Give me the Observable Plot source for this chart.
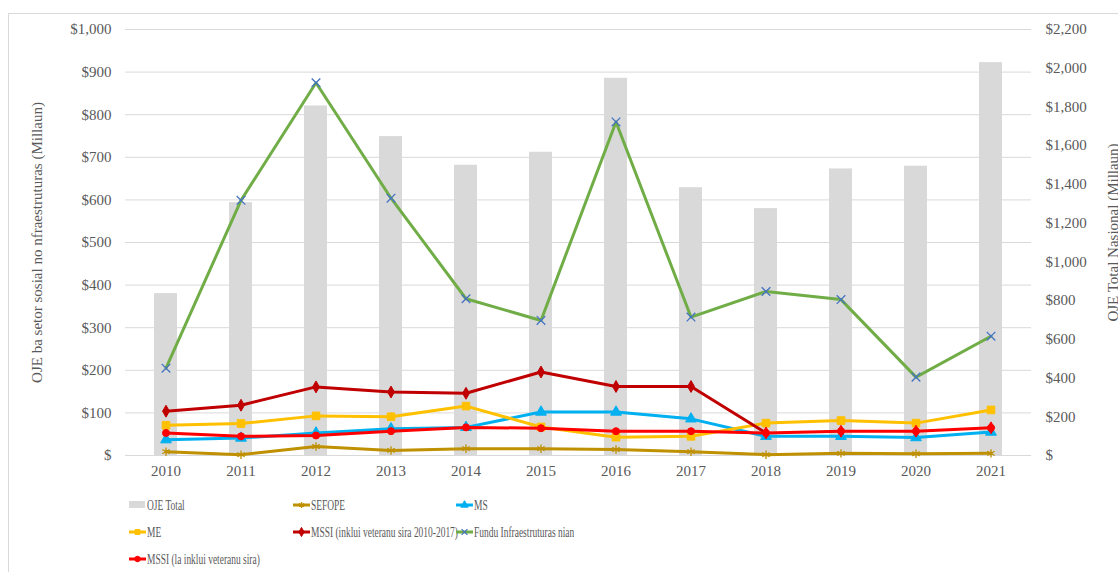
<!DOCTYPE html>
<html>
<head>
<meta charset="utf-8">
<script src="https://cdn.jsdelivr.net/npm/d3@7"></script>
<script src="https://cdn.jsdelivr.net/npm/@observablehq/plot@0.6"></script>
<style>
  html, body { margin:0; padding:0; background:#fff; overflow:hidden; width:1118px; height:572px; }
  #frame { position:absolute; left:8px; top:13px; width:1200px; height:700px; border:1px solid #d9d9d9; box-sizing:border-box; }
  #chart { position:absolute; left:0; top:0; }
  #legend { position:absolute; left:0; top:0; font-family:"Liberation Serif", serif; font-size:15px; color:#595959; }
  .item { position:absolute; display:flex; align-items:center; white-space:nowrap; height:16px; }
  .item svg { margin-right:1px; flex:none; }
  .item span { display:inline-block; transform:scaleX(0.63); transform-origin:left center; }
</style>
</head>
<body>
<div id="frame"></div>
<div id="chart"></div>
<div id="legend"></div>
<script>
const years = [2010, 2011, 2012, 2013, 2014, 2015, 2016, 2017, 2018, 2019, 2020, 2021];
const ojeTotal = [836, 1306, 1805, 1647, 1499, 1566, 1948, 1383, 1275, 1480, 1494, 2029];
const sefope = [9, 2, 21, 12, 16, 16, 14, 9, 2, 5, 4, 5];
const ms = [37, 41, 53, 63, 66, 102, 102, 86, 45, 45, 42, 55];
const me = [71, 75, 93, 91, 116, 67, 43, 45, 76, 82, 76, 107];
const mssiInklui = [104, 118, 161, 149, 146, 196, 162, 162, 53, 57, 57, 65];
const fundu = [205, 599, 875, 604, 368, 317, 783, 325, 385, 366, 184, 280];
const mssiLa = [53, 45, 47, 57, 66, 64, 57, 57, 53, 57, 57, 65];
const leftTicks = [0, 100, 200, 300, 400, 500, 600, 700, 800, 900, 1000];
const rightTicks = [0, 200, 400, 600, 800, 1000, 1200, 1400, 1600, 1800, 2000, 2200];
const leftTitle = "OJE ba setor sosial no nfraestruturas (Millaun)";
const rightTitle = "OJE Total Nasional (Millaun)";
const barName = "OJE Total";
const seriesNames = ["SEFOPE", "MS", "ME", "MSSI (inklui veteranu sira 2010-2017)", "Fundu Infraestruturas nian", "MSSI (la inklui veteranu sira)"];

const ratio = 2200 / 1000;
const fmt = v => v === 0 ? "$" : "$" + d3.format(",")(v);

const series = [
  {name: seriesNames[0], values: sefope, stroke: "#bf9000", symbol: "asterisk", mfill: "none", mstroke: "#bf9000", r: 4},
  {name: seriesNames[1], values: ms, stroke: "#00b0f0", symbol: "triangle", mfill: "#00b0f0", mstroke: "#00b0f0", r: 4},
  {name: seriesNames[2], values: me, stroke: "#ffc000", symbol: "square", mfill: "#ffc000", mstroke: "#ffc000", r: 4.3},
  {name: seriesNames[3], values: mssiInklui, stroke: "#c00000", symbol: "diamond", mfill: "#c00000", mstroke: "#c00000", r: 3.6},
  {name: seriesNames[4], values: fundu, stroke: "#70ad47", symbol: "times", mfill: "none", mstroke: "#4472c4", r: 4},
  {name: seriesNames[5], values: mssiLa, stroke: "#ff0000", symbol: "circle", mfill: "#ff0000", mstroke: "#ff0000", r: 3.5}
];

const barData = years.map((y, i) => ({year: y, v: ojeTotal[i] / ratio}));

const marks = [
  Plot.gridY(leftTicks, {stroke: "#d9d9d9", strokeOpacity: 1, strokeWidth: 1}),
  Plot.barY(barData, {x: "year", y: "v", fill: "#d9d9d9"}),
  Plot.axisY(leftTicks, {anchor: "left", tickSize: 0, tickPadding: 14, tickFormat: fmt, label: null, fill: "#595959"}),
  Plot.axisY(rightTicks.map(t => t / ratio), {anchor: "right", tickSize: 0, tickPadding: 14, tickFormat: d => fmt(Math.round(d * ratio)), label: null, fill: "#595959"}),
  Plot.axisX({tickSize: 0, tickPadding: 10, tickFormat: d => String(d), label: null, fill: "#595959"}),
  Plot.text([leftTitle], {frameAnchor: "left", textAnchor: "middle", dx: -88, rotate: -90, fontSize: 15, fill: "#595959"}),
  Plot.text([rightTitle], {frameAnchor: "right", textAnchor: "middle", dx: 82, dy: -10, rotate: -90, fontSize: 15, fill: "#595959"})
];

for (const s of series) {
  const data = years.map((y, i) => ({year: y, v: s.values[i]}));
  let lineData = data;
  if (s === series[3]) lineData = data.filter(d => d.year <= 2018);
  marks.push(Plot.line(lineData, {x: "year", y: "v", stroke: s.stroke, strokeWidth: 3}));
  const dotFill = s === series[3] ? data.map(d => d.year <= 2017 ? "#c00000" : "#ff0000") : null;
  marks.push(Plot.dot(data, {
    x: "year", y: "v", symbol: () => s.symbol, r: s.r,
    fill: s.mfill === "none" ? "none" : (dotFill ? (d, i) => dotFill[i] : s.mfill),
    stroke: s.mstroke === "none" ? "none" : (dotFill ? (d, i) => dotFill[i] : s.mstroke),
    strokeWidth: s.mfill === "none" ? 1.3 : 1
  }));
}

const chart = Plot.plot({
  width: 1118,
  height: 480,
  marginLeft: 125,
  marginRight: 87,
  marginTop: 29,
  marginBottom: 25,
  x: {type: "band", domain: years, paddingInner: 0.695, paddingOuter: 0.3475, label: null},
  y: {domain: [0, 1000], label: null},
  symbol: {type: "identity"},
  color: {type: "identity"},
  style: {fontFamily: "Liberation Serif, serif", fontSize: "15px", color: "#595959", background: "transparent"},
  marks
});
document.getElementById("chart").appendChild(chart);

// Legend
const legend = document.getElementById("legend");
const items = [
  {label: barName, type: "bar", x: 129, y: 497},
  {label: series[0].name, s: series[0], x: 293, y: 497},
  {label: series[1].name, s: series[1], x: 456, y: 497},
  {label: series[2].name, s: series[2], x: 129, y: 524},
  {label: series[3].name, s: series[3], x: 293, y: 524},
  {label: series[4].name, s: series[4], x: 456, y: 524},
  {label: series[5].name, s: series[5], x: 129, y: 551}
];
const ns = "http://www.w3.org/2000/svg";
for (const it of items) {
  const div = document.createElement("div");
  div.className = "item";
  div.style.left = it.x + "px";
  div.style.top = it.y + "px";
  const svg = document.createElementNS(ns, "svg");
  svg.setAttribute("width", 17);
  svg.setAttribute("height", 16);
  if (it.type === "bar") {
    const r = document.createElementNS(ns, "rect");
    r.setAttribute("x", 0); r.setAttribute("y", 4); r.setAttribute("width", 16); r.setAttribute("height", 7);
    r.setAttribute("fill", "#d9d9d9");
    svg.appendChild(r);
  } else {
    const s = it.s;
    const l = document.createElementNS(ns, "line");
    l.setAttribute("x1", 0); l.setAttribute("x2", 17); l.setAttribute("y1", 8); l.setAttribute("y2", 8);
    l.setAttribute("stroke", s.stroke); l.setAttribute("stroke-width", 3);
    svg.appendChild(l);
    const p = document.createElementNS(ns, "path");
    const sym = {asterisk: d3.symbolAsterisk, triangle: d3.symbolTriangle, square: d3.symbolSquare, diamond: d3.symbolDiamond, times: d3.symbolTimes, circle: d3.symbolCircle}[s.symbol];
    p.setAttribute("d", d3.symbol(sym, 24)());
    p.setAttribute("transform", "translate(8.5,8)");
    p.setAttribute("fill", s.mfill);
    p.setAttribute("stroke", s.mstroke);
    p.setAttribute("stroke-width", s.mfill === "none" ? 1.2 : 1);
    svg.appendChild(p);
  }
  div.appendChild(svg);
  const span = document.createElement("span");
  span.textContent = it.label;
  div.appendChild(span);
  legend.appendChild(div);
}
</script>
</body>
</html>
